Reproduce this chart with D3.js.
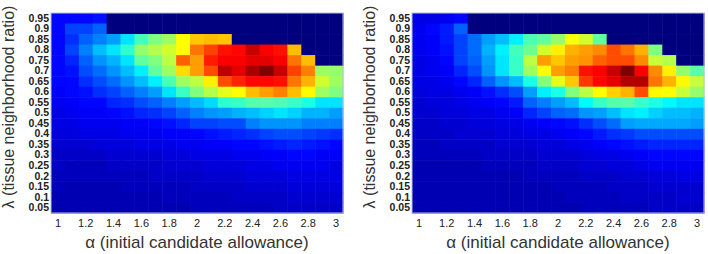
<!DOCTYPE html>
<html>
<head>
<meta charset="utf-8">
<script src="https://cdn.jsdelivr.net/npm/d3@7"></script>
<style>
  body { margin: 0; background: #fff; }
  svg { display: block; font-family: "Liberation Sans", Arial, sans-serif; }
</style>
</head>
<body>
<div id="chart"></div>
<script>
// alpha (columns) and lambda (rows, top to bottom)
var alphas = [1.0, 1.1, 1.2, 1.3, 1.4, 1.5, 1.6, 1.7, 1.8, 1.9, 2.0, 2.1, 2.2, 2.3, 2.4, 2.5, 2.6, 2.7, 2.8, 2.9, 3.0];
var lambdas = [0.95, 0.9, 0.85, 0.8, 0.75, 0.7, 0.65, 0.6, 0.55, 0.5, 0.45, 0.4, 0.35, 0.3, 0.25, 0.2, 0.15, 0.1, 0.05];
var alphaTicks = [1, 1.2, 1.4, 1.6, 1.8, 2, 2.2, 2.4, 2.6, 2.8, 3];

var xTitle = "α (initial candidate allowance)";
var yTitle = "λ (tissue neighborhood ratio)";

var n = null;
// normalised score, one row per lambda (0.95 first); null = not evaluated
var leftValues = [
  [0.13,0.13,0.13,0.14,n,n,n,n,n,n,n,n,n,n,n,n,n,n,n,n,n],
  [0.13,0.19,0.19,0.22,n,n,n,n,n,n,n,n,n,n,n,n,n,n,n,n,n],
  [0.13,0.17,0.22,0.25,0.28,0.35,0.44,0.5,0.53,0.625,0.68,0.69,0.68,n,n,n,n,n,n,n,n],
  [0.13,0.19,0.25,0.31,0.35,0.42,0.52,0.55,0.58,0.625,0.76,0.81,0.86,0.87,0.93,0.88,0.86,0.69,n,n,n],
  [0.13,0.16,0.22,0.27,0.3,0.35,0.47,0.5,0.56,0.78,0.72,0.85,0.88,0.88,0.9,0.9,0.88,0.76,0.69,n,n],
  [0.13,0.14,0.2,0.23,0.27,0.31,0.36,0.47,0.53,0.66,0.72,0.8,0.94,0.9,0.96,1.0,0.93,0.81,0.75,0.53,0.52],
  [0.13,0.13,0.17,0.2,0.23,0.27,0.31,0.36,0.45,0.53,0.56,0.64,0.8,0.84,0.87,0.87,0.86,0.76,0.7,0.58,0.53],
  [0.12,0.13,0.14,0.17,0.19,0.22,0.25,0.28,0.35,0.43,0.5,0.55,0.6,0.625,0.69,0.72,0.75,0.69,0.63,0.53,0.5],
  [0.11,0.12,0.13,0.13,0.16,0.17,0.2,0.22,0.25,0.28,0.31,0.34,0.42,0.43,0.46,0.46,0.45,0.43,0.4,0.35,0.35],
  [0.1,0.11,0.12,0.12,0.13,0.14,0.16,0.17,0.19,0.22,0.25,0.27,0.28,0.3,0.31,0.33,0.35,0.33,0.3,0.3,0.28],
  [0.1,0.1,0.11,0.11,0.11,0.12,0.12,0.13,0.14,0.16,0.19,0.19,0.2,0.2,0.25,0.27,0.27,0.27,0.25,0.25,0.25],
  [0.09,0.09,0.1,0.1,0.1,0.11,0.11,0.11,0.12,0.12,0.13,0.14,0.15,0.16,0.17,0.19,0.2,0.2,0.19,0.18,0.17],
  [0.08,0.08,0.08,0.09,0.09,0.09,0.1,0.1,0.1,0.11,0.11,0.12,0.12,0.13,0.13,0.14,0.15,0.16,0.15,0.14,0.13],
  [0.07,0.07,0.07,0.07,0.08,0.08,0.08,0.08,0.09,0.09,0.1,0.1,0.1,0.11,0.11,0.12,0.12,0.13,0.13,0.12,0.12],
  [0.07,0.06,0.06,0.06,0.07,0.07,0.07,0.07,0.08,0.08,0.08,0.09,0.09,0.09,0.1,0.1,0.11,0.11,0.11,0.11,0.1],
  [0.06,0.06,0.06,0.06,0.06,0.06,0.06,0.07,0.07,0.07,0.07,0.08,0.08,0.08,0.09,0.09,0.09,0.1,0.1,0.1,0.1],
  [0.06,0.05,0.05,0.05,0.05,0.06,0.06,0.06,0.06,0.06,0.07,0.07,0.07,0.07,0.08,0.08,0.08,0.09,0.09,0.09,0.09],
  [0.05,0.05,0.05,0.05,0.05,0.05,0.05,0.05,0.06,0.06,0.06,0.06,0.06,0.07,0.07,0.07,0.07,0.08,0.08,0.08,0.08],
  [0.05,0.05,0.05,0.05,0.05,0.05,0.05,0.05,0.05,0.05,0.06,0.06,0.06,0.06,0.06,0.06,0.07,0.07,0.07,0.07,0.07]
];

var rightValues = [
  [0.1,0.1,0.11,0.13,n,n,n,n,n,n,n,n,n,n,n,n,n,n,n,n,n],
  [0.11,0.13,0.15,0.22,n,n,n,n,n,n,n,n,n,n,n,n,n,n,n,n,n],
  [0.11,0.12,0.15,0.19,0.23,0.28,0.31,0.36,0.45,0.47,0.52,0.62,0.58,0.47,n,n,n,n,n,n,n],
  [0.11,0.12,0.14,0.19,0.23,0.3,0.36,0.44,0.48,0.58,0.64,0.7,0.72,0.74,0.8,0.76,0.7,0.5,n,n,n],
  [0.1,0.11,0.13,0.19,0.22,0.28,0.35,0.43,0.56,0.72,0.68,0.72,0.73,0.78,0.8,0.8,0.74,0.57,0.55,n,n],
  [0.1,0.11,0.12,0.16,0.2,0.27,0.35,0.43,0.53,0.62,0.72,0.75,0.86,0.88,0.93,1.0,0.88,0.74,0.64,0.52,0.46],
  [0.1,0.1,0.11,0.13,0.16,0.22,0.27,0.31,0.4,0.5,0.6,0.68,0.82,0.87,0.9,0.95,0.95,0.76,0.7,0.63,0.57],
  [0.09,0.1,0.1,0.11,0.12,0.14,0.17,0.2,0.28,0.36,0.4,0.5,0.56,0.625,0.67,0.7,0.8,0.63,0.62,0.57,0.52],
  [0.08,0.09,0.09,0.1,0.11,0.12,0.13,0.15,0.22,0.25,0.28,0.31,0.37,0.43,0.46,0.46,0.43,0.4,0.37,0.35,0.35],
  [0.08,0.08,0.09,0.09,0.1,0.1,0.11,0.12,0.16,0.19,0.22,0.23,0.27,0.28,0.31,0.35,0.36,0.33,0.31,0.31,0.3],
  [0.07,0.07,0.08,0.08,0.09,0.09,0.1,0.1,0.11,0.12,0.13,0.14,0.17,0.2,0.23,0.28,0.29,0.29,0.29,0.29,0.28],
  [0.07,0.07,0.07,0.08,0.08,0.08,0.09,0.09,0.1,0.1,0.11,0.12,0.13,0.15,0.17,0.18,0.2,0.2,0.2,0.2,0.2],
  [0.06,0.06,0.07,0.07,0.07,0.07,0.08,0.08,0.08,0.09,0.09,0.1,0.11,0.12,0.13,0.14,0.15,0.16,0.16,0.16,0.16],
  [0.06,0.06,0.06,0.06,0.06,0.07,0.07,0.07,0.07,0.08,0.08,0.08,0.09,0.1,0.1,0.11,0.12,0.13,0.13,0.13,0.13],
  [0.05,0.05,0.05,0.05,0.05,0.06,0.06,0.06,0.06,0.07,0.07,0.07,0.08,0.08,0.09,0.09,0.1,0.11,0.11,0.11,0.11],
  [0.05,0.05,0.05,0.05,0.05,0.05,0.05,0.05,0.06,0.06,0.06,0.06,0.07,0.07,0.07,0.08,0.08,0.09,0.09,0.1,0.1],
  [0.05,0.05,0.05,0.05,0.05,0.05,0.05,0.05,0.05,0.05,0.06,0.06,0.06,0.06,0.07,0.07,0.07,0.08,0.08,0.08,0.08],
  [0.05,0.05,0.05,0.05,0.05,0.05,0.05,0.05,0.05,0.05,0.05,0.06,0.06,0.06,0.06,0.07,0.07,0.07,0.07,0.08,0.08],
  [0.05,0.05,0.05,0.05,0.05,0.05,0.05,0.05,0.05,0.05,0.05,0.05,0.06,0.06,0.06,0.06,0.06,0.07,0.07,0.07,0.07]
];

// matlab "jet" colormap
var jet = d3.scaleLinear()
    .domain([0, 0.125, 0.375, 0.625, 0.875, 1])
    .range(["#00007f", "#0000ff", "#00ffff", "#ffff00", "#ff0000", "#7f0000"])
    .clamp(true);

var svg = d3.select("#chart").append("svg")
    .attr("width", 708)
    .attr("height", 254);

var width = 292, height = 200;

function drawPanel(left, values) {

    var g = svg.append("g")
        .attr("transform", "translate(" + left + ",13)");

    var x = d3.scaleBand().domain(alphas).range([0, width]);
    var y = d3.scaleBand().domain(lambdas).range([0, height]);

    var cells = [];
    values.forEach(function(row, i) {
        row.forEach(function(v, j) {
            cells.push({ a: alphas[j], l: lambdas[i], v: v });
        });
    });

    g.selectAll(".cell")
        .data(cells)
        .enter().append("rect")
        .attr("class", "cell")
        .attr("x", function(d) { return x(d.a); })
        .attr("y", function(d) { return y(d.l); })
        .attr("width", x.bandwidth() + 0.5)
        .attr("height", y.bandwidth() + 0.5)
        .attr("fill", function(d) { return d.v === null ? jet(0) : jet(d.v); });

    g.append("rect")
        .attr("width", width)
        .attr("height", height)
        .attr("fill", "none")
        .attr("stroke", "#b8bfd8")
        .attr("stroke-width", 1);

    var xAxis = g.append("g")
        .attr("transform", "translate(0," + height + ")")
        .call(d3.axisBottom(x).tickValues(alphaTicks).tickSize(0).tickPadding(6).tickFormat(d3.format("~g")));

    var yAxis = g.append("g")
        .call(d3.axisLeft(y).tickSize(0).tickPadding(2).tickFormat(d3.format("~g")));

    g.selectAll(".domain").remove();
    xAxis.selectAll("text")
        .attr("fill", "#222")
        .style("font-size", "11px");
    yAxis.selectAll("text")
        .attr("fill", "#222")
        .style("font-size", "10.5px")
        .style("font-weight", "bold");

    g.append("text")
        .attr("x", width / 2)
        .attr("y", height + 35)
        .attr("text-anchor", "middle")
        .attr("fill", "#333")
        .style("font-size", "17px")
        .text(xTitle);

    g.append("text")
        .attr("transform", "translate(-37," + (height / 2 - 6) + ") rotate(-90)")
        .attr("text-anchor", "middle")
        .attr("fill", "#333")
        .style("font-size", "16px")
        .text(yTitle);
}

drawPanel(51, leftValues);
drawPanel(412, rightValues);
</script>
</body>
</html>
